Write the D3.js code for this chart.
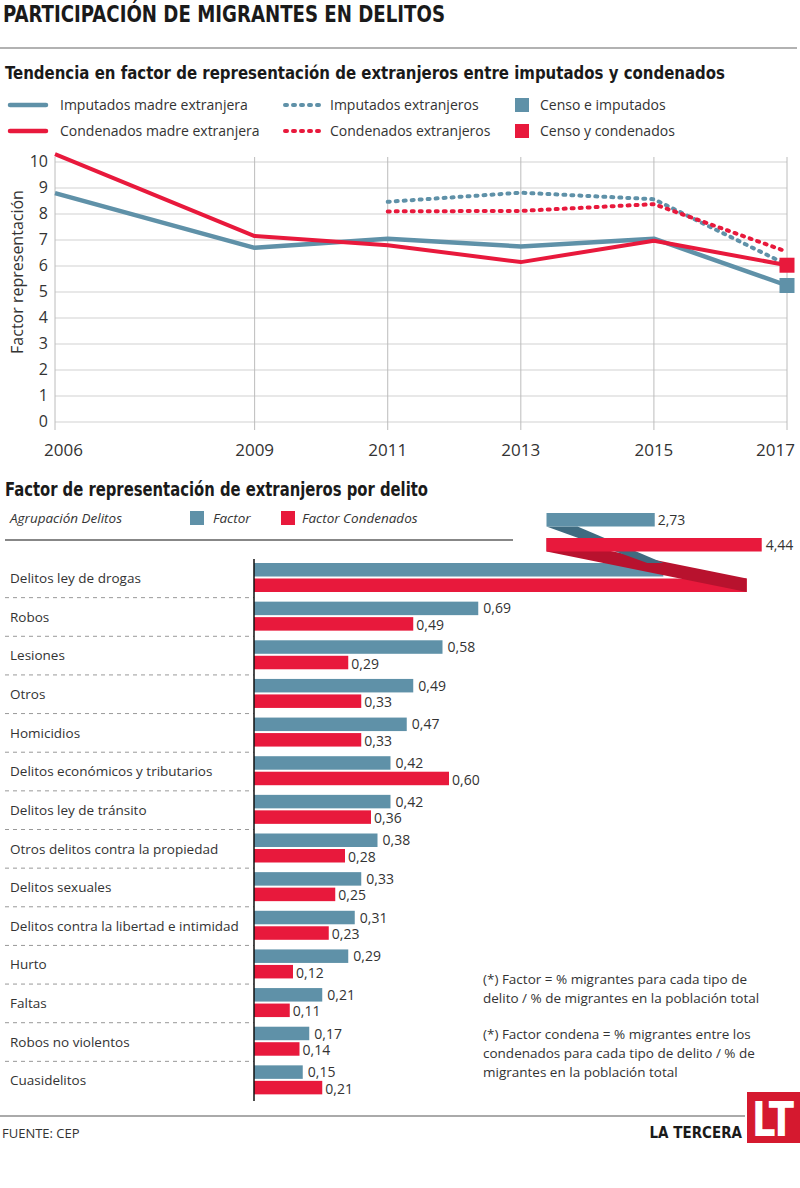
<!DOCTYPE html>
<html>
<head>
<meta charset="utf-8">
<script src="https://cdn.jsdelivr.net/npm/d3@7"></script>
<style>
  body { margin: 0; background: #fff; }
  text { font-family: "Open Sans", sans-serif; fill: #333; }
  .head { font-family: "Liberation Sans Narrow", "DejaVu Sans Condensed", sans-serif; font-weight: bold; fill: #1a1a1a; }
</style>
</head>
<body>
<div id="chart"></div>
<script>
// ---- line chart data ----
var years = [2006, 2009, 2011, 2013, 2015, 2017];
var imputadosMadre = [8.8, 6.7, 7.05, 6.75, 7.05, 5.25];
var condenadosMadre = [10.3, 7.15, 6.8, 6.15, 6.97, 6.03];
var imputadosExt = [null, null, 8.47, 8.82, 8.57, 6.05];
var condenadosExt = [null, null, 8.1, 8.12, 8.38, 6.55];
var censoYear = 2017;
var censoImputados = 5.25;
var censoCondenados = 6.03;
var yTicks = [0, 1, 2, 3, 4, 5, 6, 7, 8, 9, 10];

// ---- bar chart data ----
var delitos = ["Delitos ley de drogas", "Robos", "Lesiones", "Otros", "Homicidios",
  "Delitos económicos y tributarios", "Delitos ley de tránsito", "Otros delitos contra la propiedad",
  "Delitos sexuales", "Delitos contra la libertad e intimidad", "Hurto", "Faltas",
  "Robos no violentos", "Cuasidelitos"];
var factor = [2.73, 0.69, 0.58, 0.49, 0.47, 0.42, 0.42, 0.38, 0.33, 0.31, 0.29, 0.21, 0.17, 0.15];
var factorCond = [4.44, 0.49, 0.29, 0.33, 0.33, 0.60, 0.36, 0.28, 0.25, 0.23, 0.12, 0.11, 0.14, 0.21];

var notes = [
  "(*) Factor = % migrantes para cada tipo de",
  "delito / % de migrantes en la población total",
  "(*) Factor condena = % migrantes entre los",
  "condenados para cada tipo de delito / % de",
  "migrantes en la población total"
];

var blue = "#5f91a8", red = "#e8193c", darkBlue = "#3f6b80", darkRed = "#b8122e";
var fmt = function(v) { return d3.format(".2f")(v).replace(".", ","); };

var svg = d3.select("#chart").append("svg")
  .attr("width", 800)
  .attr("height", 1188);

// ---- headers ----
svg.append("text").attr("class", "head")
  .attr("x", 3).attr("y", 22)
  .attr("font-size", 23)
  .attr("textLength", 442).attr("lengthAdjust", "spacingAndGlyphs")
  .text("PARTICIPACIÓN DE MIGRANTES EN DELITOS");

svg.append("line")
  .attr("x1", 0).attr("x2", 797).attr("y1", 48).attr("y2", 48)
  .attr("stroke", "#999").attr("stroke-width", 1.5);

svg.append("text").attr("class", "head")
  .attr("x", 5).attr("y", 79)
  .attr("font-size", 17.5)
  .attr("textLength", 720).attr("lengthAdjust", "spacingAndGlyphs")
  .text("Tendencia en factor de representación de extranjeros entre imputados y condenados");

// ---- legend of the line chart ----
var legendItems = [
  {label: "Imputados madre extranjera", color: blue, type: "solid", col: 0, row: 0},
  {label: "Condenados madre extranjera", color: red, type: "solid", col: 0, row: 1},
  {label: "Imputados extranjeros", color: blue, type: "dot", col: 1, row: 0},
  {label: "Condenados extranjeros", color: red, type: "dot", col: 1, row: 1},
  {label: "Censo e imputados", color: blue, type: "square", col: 2, row: 0},
  {label: "Censo y condenados", color: red, type: "square", col: 2, row: 1}
];
var colX = [8, 283, 515];
var legend = svg.append("g");
legendItems.forEach(function(d) {
  var x0 = colX[d.col], yy = 105 + d.row * 26;
  if (d.type === "square") {
    legend.append("rect").attr("x", x0).attr("y", yy - 7)
      .attr("width", 14).attr("height", 14).attr("fill", d.color);
    legend.append("text").attr("x", x0 + 25).attr("y", yy).attr("dy", "0.35em")
      .attr("font-size", 14).text(d.label);
  } else {
    legend.append("line").attr("x1", x0 + 2).attr("x2", x0 + 38)
      .attr("y1", yy).attr("y2", yy)
      .attr("stroke", d.color).attr("stroke-width", d.type === "solid" ? 4.5 : 4)
      .attr("stroke-linecap", "round")
      .attr("stroke-dasharray", d.type === "dot" ? "2,6" : null);
    legend.append("text").attr("x", x0 + (d.type === "solid" ? 52 : 47)).attr("y", yy).attr("dy", "0.35em")
      .attr("font-size", 14).text(d.label);
  }
});

// ---- line chart ----
var x = d3.scaleLinear().domain([2006, 2017]).range([55, 787]);
var y = d3.scaleLinear().domain([0, 10]).range([422, 162]);

var lc = svg.append("g");
lc.selectAll(".hgrid").data(yTicks).enter().append("line")
  .attr("x1", x(2006)).attr("x2", x(2017))
  .attr("y1", d => y(d)).attr("y2", d => y(d))
  .attr("stroke", "#d2d2d2").attr("stroke-width", 1.2);
lc.selectAll(".vgrid").data(years).enter().append("line")
  .attr("x1", d => x(d)).attr("x2", d => x(d))
  .attr("y1", 157).attr("y2", 430)
  .attr("stroke", "#bcbcbc").attr("stroke-width", 1);

lc.selectAll(".ytick").data(yTicks).enter().append("text")
  .attr("x", 48).attr("y", d => y(d)).attr("dy", "0.3em")
  .attr("text-anchor", "end").attr("font-size", 16).attr("fill", "#444")
  .text(d => d);

lc.selectAll(".xtick").data(years).enter().append("text")
  .attr("x", (d, i) => i === 0 ? x(d) - 11 : (i === years.length - 1 ? x(d) + 8 : x(d)))
  .attr("y", 456)
  .attr("text-anchor", (d, i) => i === 0 ? "start" : (i === years.length - 1 ? "end" : "middle"))
  .attr("font-size", 17).attr("fill", "#444")
  .text(d => d);

lc.append("text")
  .attr("transform", "translate(23," + 272 + ") rotate(-90)")
  .attr("text-anchor", "middle").attr("font-size", 16).attr("fill", "#333")
  .text("Factor representación");

var line = d3.line()
  .defined(d => d[1] != null)
  .x(d => x(d[0])).y(d => y(d[1]));
function pts(arr) { return years.map(function(yr, i) { return [yr, arr[i]]; }); }

var series = [
  {data: imputadosMadre, color: blue, w: 4.5, dash: null},
  {data: imputadosExt, color: blue, w: 4, dash: "2,6"},
  {data: condenadosMadre, color: red, w: 4, dash: null},
  {data: condenadosExt, color: red, w: 4, dash: "2,6"}
];
series.forEach(function(s) {
  lc.append("path").datum(pts(s.data))
    .attr("d", line)
    .attr("fill", "none")
    .attr("stroke", s.color)
    .attr("stroke-width", s.w)
    .attr("stroke-linejoin", "round")
    .attr("stroke-linecap", s.dash ? "round" : "butt")
    .attr("stroke-dasharray", s.dash);
});

[[censoImputados, blue], [censoCondenados, red]].forEach(function(c) {
  lc.append("rect")
    .attr("x", x(censoYear) - 7.5).attr("y", y(c[0]) - 7.5)
    .attr("width", 15).attr("height", 15).attr("fill", c[1]);
});

// ---- bar chart ----
svg.append("text").attr("class", "head")
  .attr("x", 5).attr("y", 496)
  .attr("font-size", 20)
  .attr("textLength", 423).attr("lengthAdjust", "spacingAndGlyphs")
  .text("Factor de representación de extranjeros por delito");

var hdr = svg.append("g");
hdr.append("text").attr("x", 10).attr("y", 518).attr("dy", "0.35em")
  .attr("font-size", 13.5).attr("font-style", "italic").text("Agrupación Delitos");
hdr.append("rect").attr("x", 190).attr("y", 511).attr("width", 14).attr("height", 14).attr("fill", blue);
hdr.append("text").attr("x", 213).attr("y", 518).attr("dy", "0.35em")
  .attr("font-size", 13.5).attr("font-style", "italic").text("Factor");
hdr.append("rect").attr("x", 281).attr("y", 511).attr("width", 14).attr("height", 14).attr("fill", red);
hdr.append("text").attr("x", 302).attr("y", 518).attr("dy", "0.35em")
  .attr("font-size", 13.5).attr("font-style", "italic").text("Factor Condenados");
svg.append("line").attr("x1", 5).attr("x2", 513).attr("y1", 540).attr("y2", 540)
  .attr("stroke", "#111").attr("stroke-width", 1.2);

var xBar = d3.scaleLinear().domain([0, 1]).range([254, 579]);
var yBand = d3.scaleBand().domain(delitos).range([559, 1100]);
var cutAt = 1;  // values above this are drawn broken
var xCut = d3.scaleLinear().domain([1, 5]).range([xBar(1), xBar(1.6)]);
var xTail = d3.scaleLinear().domain([1, 5]).range([xBar(0.9), xBar(1.67)]);
var barH = 13.5;

var bc = svg.append("g");

// dashed separators
bc.selectAll(".sep").data(delitos.slice(1)).enter().append("line")
  .attr("x1", 5).attr("x2", xBar(0))
  .attr("y1", d => yBand(d)).attr("y2", d => yBand(d))
  .attr("stroke", "#999").attr("stroke-width", 1).attr("stroke-dasharray", "4,4");

bc.selectAll(".cat").data(delitos).enter().append("text")
  .attr("x", 10).attr("y", d => yBand(d) + yBand.bandwidth() / 2).attr("dy", "0.35em")
  .attr("font-size", 13.5).attr("fill", "#333")
  .text(d => d);

function barEnd(v) { return v > cutAt ? xCut(v) : xBar(v); }

var rows = delitos.map(function(d, i) { return {name: d, f: factor[i], c: factorCond[i]}; });

bc.selectAll(".bF").data(rows).enter().append("rect")
  .attr("x", xBar(0)).attr("y", d => yBand(d.name) + 4)
  .attr("width", d => barEnd(d.f) - xBar(0)).attr("height", barH)
  .attr("fill", blue);
bc.selectAll(".bC").data(rows).enter().append("rect")
  .attr("x", xBar(0)).attr("y", d => yBand(d.name) + 4 + barH + 2)
  .attr("width", d => barEnd(d.c) - xBar(0)).attr("height", barH)
  .attr("fill", red);

bc.selectAll(".lF").data(rows.filter(d => d.f <= cutAt)).enter().append("text")
  .attr("x", d => xBar(d.f) + 5).attr("y", d => yBand(d.name) + 4 + barH / 2).attr("dy", "0.36em")
  .attr("font-size", 14).attr("fill", "#222").text(d => fmt(d.f));
bc.selectAll(".lC").data(rows.filter(d => d.c <= cutAt)).enter().append("text")
  .attr("x", d => xBar(d.c) + 3).attr("y", d => yBand(d.name) + 7 + barH * 1.5).attr("dy", "0.36em")
  .attr("font-size", 14).attr("fill", "#222").text(d => fmt(d.c));

// broken bars: the tails shown above with a slanted joint
rows.filter(d => d.f > cutAt || d.c > cutAt).forEach(function(d) {
  var top = yBand(d.name) + 4;
  var pF = top - 50, pC = top - 25;
  var eF = xCut(d.f), eC = xCut(d.c);
  var s = xTail(cutAt);
  bc.append("polygon")
    .attr("points", [[s, pC], [s, pC + barH], [eC, top + 2 * barH + 2], [eC, top + barH + 2]].join(" "))
    .attr("fill", darkRed);
  bc.append("polygon")
    .attr("points", [[s, pF + barH], [s + 31, pF + barH], [eF, top], [eF - 16, top]].join(" "))
    .attr("fill", darkBlue);
  bc.append("rect").attr("x", s).attr("y", pC)
    .attr("width", xTail(d.c) - s).attr("height", barH).attr("fill", red);
  bc.append("rect").attr("x", s).attr("y", pF)
    .attr("width", xTail(d.f) - s).attr("height", barH).attr("fill", blue);
  bc.append("text").attr("x", xTail(d.f) + 3).attr("y", pF + barH / 2).attr("dy", "0.36em")
    .attr("font-size", 14).attr("fill", "#222").text(fmt(d.f));
  bc.append("text").attr("x", xTail(d.c) + 4).attr("y", pC + barH / 2).attr("dy", "0.36em")
    .attr("font-size", 14).attr("fill", "#222").text(fmt(d.c));
});

bc.append("line").attr("x1", xBar(0)).attr("x2", xBar(0))
  .attr("y1", 559).attr("y2", 1101)
  .attr("stroke", "#111").attr("stroke-width", 1.5);

// notes
svg.selectAll(".note").data(notes).enter().append("text")
  .attr("x", 483)
  .attr("y", (d, i) => 979 + i * 19 + (i >= 2 ? 17 : 0)).attr("dy", "0.35em")
  .attr("font-size", 13.5).attr("fill", "#222")
  .text(d => d);

// footer
svg.append("line").attr("x1", 0).attr("x2", 745).attr("y1", 1116).attr("y2", 1116)
  .attr("stroke", "#aaa").attr("stroke-width", 2);
svg.append("text").attr("x", 2).attr("y", 1133).attr("dy", "0.35em")
  .attr("font-size", 13).attr("fill", "#222").text("FUENTE: CEP");
svg.append("text").attr("class", "head").attr("x", 742).attr("y", 1133).attr("dy", "0.35em")
  .attr("text-anchor", "end").attr("font-size", 15).text("LA TERCERA");
svg.append("rect").attr("x", 747).attr("y", 1092).attr("width", 53).attr("height", 51).attr("fill", "#d5192f");
svg.append("text").attr("class", "head").attr("x", 773).attr("y", 1136)
  .attr("text-anchor", "middle").attr("font-size", 48).style("fill", "#fff")
  .attr("textLength", 42).attr("lengthAdjust", "spacingAndGlyphs")
  .text("LT");
</script>
</body>
</html>
